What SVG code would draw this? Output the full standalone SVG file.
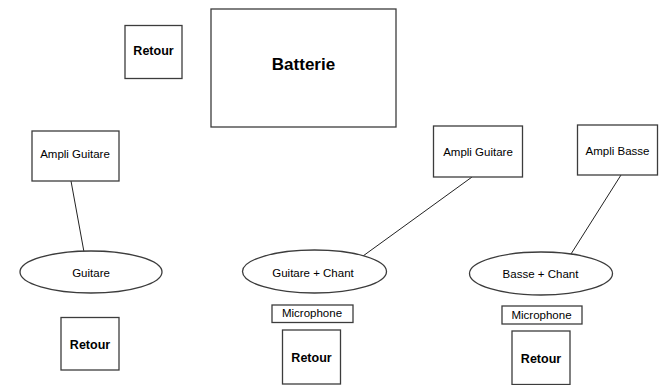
<svg xmlns="http://www.w3.org/2000/svg" width="659" height="385" viewBox="0 0 659 385">
<style>
.box{fill:#fff;stroke:#3c3c3c;stroke-width:1.3}
.ln{stroke:#222;stroke-width:1;fill:none}
text{font-family:"Liberation Sans",Arial,sans-serif;fill:#000;text-anchor:middle}
.n{font-size:11.5px}
.b{font-size:12.5px;font-weight:bold}
.big{font-size:17px;font-weight:bold}
</style>
<rect width="659" height="385" fill="#fff"/>
<g id="connectors">
<line class="ln" x1="71" y1="181" x2="84" y2="252"/>
<line class="ln" x1="472" y1="177" x2="363" y2="256"/>
<line class="ln" x1="621" y1="175" x2="571" y2="254"/>
</g>
<g id="retour1"><rect class="box" x="125" y="25.5" width="57" height="53"/><text class="b" x="153.5" y="55">Retour</text></g>
<g id="batterie"><rect class="box" x="211" y="9" width="185" height="118"/><text class="big" x="303.5" y="70">Batterie</text></g>
<g id="ampli1"><rect class="box" x="32" y="131" width="87" height="50"/><text class="n" x="75" y="158">Ampli Guitare</text></g>
<g id="ampli2"><rect class="box" x="433.5" y="126" width="89" height="51"/><text class="n" x="478" y="155.5">Ampli Guitare</text></g>
<g id="ampli3"><rect class="box" x="577.5" y="125" width="80" height="50"/><text class="n" x="617.5" y="155">Ampli Basse</text></g>
<g id="guitare"><ellipse class="box" cx="91" cy="272" rx="71" ry="21"/><text class="n" x="91" y="277">Guitare</text></g>
<g id="guitarechant"><ellipse class="box" cx="314.5" cy="271.5" rx="72" ry="21.5"/><text class="n" x="313" y="277">Guitare + Chant</text></g>
<g id="bassechant"><ellipse class="box" cx="541" cy="273.5" rx="71.5" ry="21.5"/><text class="n" x="540.5" y="277.5">Basse + Chant</text></g>
<g id="micro1"><rect class="box" x="272" y="305" width="81" height="17.5"/><text class="n" x="312" y="317">Microphone</text></g>
<g id="micro2"><rect class="box" x="502" y="306" width="80" height="18"/><text class="n" x="541.5" y="318.5">Microphone</text></g>
<g id="retour2"><rect class="box" x="61" y="317.5" width="58" height="52.5"/><text class="b" x="90" y="349">Retour</text></g>
<g id="retour3"><rect class="box" x="282.5" y="330" width="58" height="54"/><text class="b" x="311.5" y="362">Retour</text></g>
<g id="retour4"><rect class="box" x="512" y="331" width="58" height="53.5"/><text class="b" x="541" y="363">Retour</text></g>
</svg>
